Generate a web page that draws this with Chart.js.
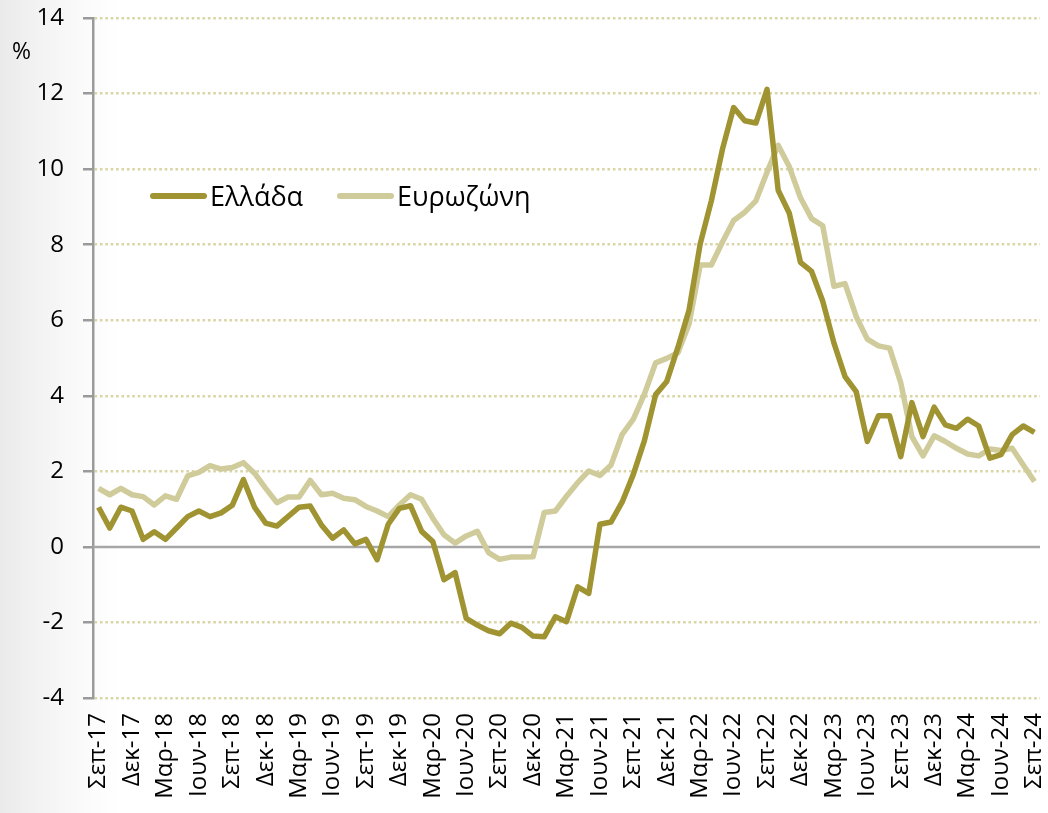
<!DOCTYPE html>
<html>
<head>
<meta charset="utf-8">
<script src="https://cdn.jsdelivr.net/npm/chart.js@4"></script>
<style>
html,body{margin:0;padding:0;}
body{width:1048px;height:813px;overflow:hidden;position:relative;
  background:linear-gradient(to right,#eaeaea 0px,#f3f3f3 40px,#fafafa 80px,#ffffff 120px);
  font-family:"Open Sans",sans-serif;}
#c{position:absolute;left:0;top:0;}
#pct{position:absolute;left:12px;top:36px;font-size:23px;line-height:28px;color:#000;}
.leg{position:absolute;top:178px;height:36px;font-size:27px;line-height:36px;color:#000;display:flex;align-items:center;white-space:nowrap;}
.sw{display:inline-block;width:57px;height:6px;border-radius:3px;margin-right:3px;}
</style>
</head>
<body>
<canvas id="c" width="1048" height="813"></canvas>
<div id="pct">%</div>
<div class="leg" style="left:150px"><span class="sw" style="background:#a09432"></span><span>Ελλάδα</span></div>
<div class="leg" style="left:337px"><span class="sw" style="background:#d0cb9b"></span><span>Ευρωζώνη</span></div>
<script>
const categories = [
 "Σεπ-17","Οκτ-17","Νοε-17","Δεκ-17",
 "Ιαν-18","Φεβ-18","Μαρ-18","Απρ-18","Μαϊ-18","Ιουν-18","Ιουλ-18","Αυγ-18","Σεπ-18","Οκτ-18","Νοε-18","Δεκ-18",
 "Ιαν-19","Φεβ-19","Μαρ-19","Απρ-19","Μαϊ-19","Ιουν-19","Ιουλ-19","Αυγ-19","Σεπ-19","Οκτ-19","Νοε-19","Δεκ-19",
 "Ιαν-20","Φεβ-20","Μαρ-20","Απρ-20","Μαϊ-20","Ιουν-20","Ιουλ-20","Αυγ-20","Σεπ-20","Οκτ-20","Νοε-20","Δεκ-20",
 "Ιαν-21","Φεβ-21","Μαρ-21","Απρ-21","Μαϊ-21","Ιουν-21","Ιουλ-21","Αυγ-21","Σεπ-21","Οκτ-21","Νοε-21","Δεκ-21",
 "Ιαν-22","Φεβ-22","Μαρ-22","Απρ-22","Μαϊ-22","Ιουν-22","Ιουλ-22","Αυγ-22","Σεπ-22","Οκτ-22","Νοε-22","Δεκ-22",
 "Ιαν-23","Φεβ-23","Μαρ-23","Απρ-23","Μαϊ-23","Ιουν-23","Ιουλ-23","Αυγ-23","Σεπ-23","Οκτ-23","Νοε-23","Δεκ-23",
 "Ιαν-24","Φεβ-24","Μαρ-24","Απρ-24","Μαϊ-24","Ιουν-24","Ιουλ-24","Αυγ-24","Σεπ-24"
];

const tickLabels = [
 "Σεπ-17","Δεκ-17","Μαρ-18","Ιουν-18","Σεπ-18","Δεκ-18","Μαρ-19","Ιουν-19","Σεπ-19","Δεκ-19",
 "Μαρ-20","Ιουν-20","Σεπ-20","Δεκ-20","Μαρ-21","Ιουν-21","Σεπ-21","Δεκ-21","Μαρ-22","Ιουν-22",
 "Σεπ-22","Δεκ-22","Μαρ-23","Ιουν-23","Σεπ-23","Δεκ-23","Μαρ-24","Ιουν-24","Σεπ-24"
];

const greece = [
 1.05, 0.50, 1.05, 0.95, 0.20, 0.40, 0.20, 0.50, 0.80, 0.95,
 0.80, 0.90, 1.10, 1.78, 1.05, 0.63, 0.55, 0.80, 1.05, 1.08,
 0.58, 0.23, 0.45, 0.08, 0.20, -0.34, 0.60, 1.02, 1.09, 0.41,
 0.14, -0.87, -0.68, -1.89, -2.07, -2.22, -2.30, -2.02, -2.13, -2.36,
 -2.38, -1.85, -1.98, -1.06, -1.23, 0.60, 0.66, 1.19, 1.92, 2.82,
 4.03, 4.38, 5.28, 6.27, 8.02, 9.16, 10.53, 11.63, 11.28, 11.22,
 12.11, 9.44, 8.83, 7.53, 7.29, 6.50, 5.40, 4.51, 4.11, 2.79,
 3.47, 3.47, 2.39, 3.82, 2.92, 3.70, 3.23, 3.14, 3.38, 3.20,
 2.35, 2.44, 2.97, 3.20, 3.03
];

const eurozone = [
 1.55, 1.38, 1.55, 1.38, 1.33, 1.11, 1.35, 1.26, 1.88, 1.97,
 2.15, 2.06, 2.10, 2.23, 1.95, 1.55, 1.17, 1.32, 1.32, 1.76,
 1.38, 1.42, 1.29, 1.25, 1.07, 0.95, 0.80, 1.11, 1.38, 1.26,
 0.76, 0.32, 0.10, 0.29, 0.41, -0.15, -0.33, -0.27, -0.27, -0.26,
 0.91, 0.95, 1.34, 1.70, 2.01, 1.89, 2.17, 2.98, 3.38, 4.05,
 4.87, 4.99, 5.14, 5.90, 7.46, 7.46, 8.07, 8.64, 8.86, 9.16,
 9.92, 10.63, 10.06, 9.24, 8.69, 8.50, 6.90, 6.97, 6.10, 5.50,
 5.32, 5.26, 4.35, 2.92, 2.41, 2.94, 2.79, 2.61, 2.46, 2.41,
 2.59, 2.55, 2.61, 2.17, 1.73
];

const seriesNames = ["Ελλάδα", "Ευρωζώνη"];

const zeroLine = {
  id: 'zeroLine',
  beforeDatasetsDraw(chart) {
    const {ctx, chartArea, scales} = chart;
    const y = scales.y.getPixelForValue(0);
    ctx.save();
    ctx.strokeStyle = '#a6a6a6';
    ctx.lineWidth = 2.5;
    ctx.setLineDash([]);
    ctx.beginPath();
    ctx.moveTo(chartArea.left, y);
    ctx.lineTo(chartArea.right, y);
    ctx.stroke();
    ctx.restore();
  }
};

new Chart(document.getElementById('c'), {
  type: 'line',
  data: {
    labels: categories,
    datasets: [
      { label: seriesNames[0], data: greece, borderColor: '#a09432', backgroundColor: '#a09432',
        borderWidth: 5.5, pointRadius: 0, tension: 0, borderJoinStyle: 'round', fill: false },
      { label: seriesNames[1], data: eurozone, borderColor: '#d0cb9b', backgroundColor: '#d0cb9b',
        borderWidth: 5.5, pointRadius: 0, tension: 0, borderJoinStyle: 'round', fill: false }
    ]
  },
  options: {
    responsive: false,
    animation: false,
    devicePixelRatio: 1,
    layout: { padding: { top: 18, right: 8, left: 0, bottom: 0 } },
    plugins: { legend: { display: false }, tooltip: { enabled: false } },
    scales: {
      x: {
        type: 'category',
        offset: true,
        grid: { display: false, drawTicks: false },
        border: { display: false },
        ticks: {
          autoSkip: false, minRotation: 90, maxRotation: 90, padding: 15,
          color: '#000', font: { family: 'Open Sans', size: 24 },
          callback: function(value, index) {
            const lab = this.getLabelForValue(value);
            return tickLabels.includes(lab) && index % 3 === 0 ? lab : '';
          }
        },
        afterFit(scale) { scale.height = 115; scale.paddingLeft = 0; scale.paddingRight = 0; }
      },
      y: {
        min: -4, max: 14,
        ticks: { stepSize: 2, color: '#000', padding: 19, font: { family: 'Open Sans', size: 24 } },
        grid: {
          color: (c) => (c.tick && c.tick.value === 0) ? 'rgba(0,0,0,0)' : '#d9d5a6',
          lineWidth: 2.5,
          drawTicks: true, tickLength: 10, tickColor: '#9a9a9a', tickWidth: 2.5, tickBorderDash: []
        },
        border: { display: true, color: '#9a9a9a', width: 2.5, dash: [2.6, 2.8] },
        afterFit(scale) { scale.width = 93; scale.paddingTop = 0; scale.paddingBottom = 0; }
      }
    }
  },
  plugins: [zeroLine]
});
</script>
</body>
</html>
